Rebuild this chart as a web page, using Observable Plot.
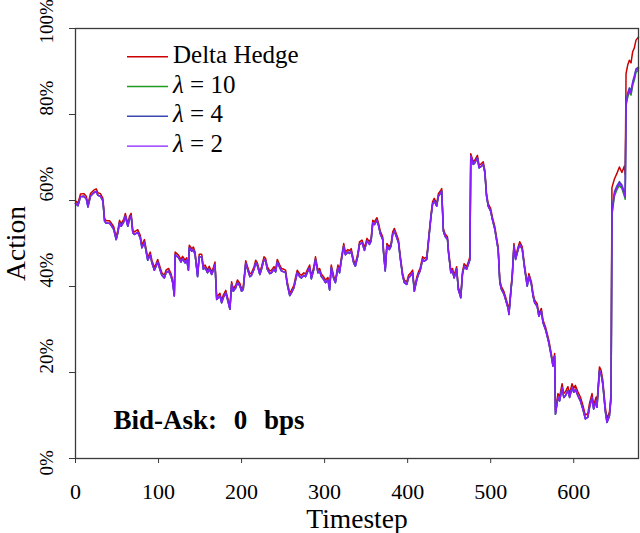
<!DOCTYPE html>
<html>
<head>
<meta charset="utf-8">
<script src="https://cdn.jsdelivr.net/npm/d3@7"></script>
<script src="https://cdn.jsdelivr.net/npm/@observablehq/plot@0.6"></script>
<style>
  html, body { margin: 0; padding: 0; background: #fff; }
  #chart svg { display: block; }
</style>
</head>
<body>
<div id="chart"></div>
<script>
const timesteps = [
  0,3,6,10,13,15,18,22,25,27,
  30,33,35,37,41,43,46,49,51,53,
  55,58,60,63,65,67,69,71,75,78,
  80,83,85,87,90,92,95,97,99,102,
  104,107,109,112,115,117,119,120,124,127,
  129,132,134,136,137,140,142,144,147,149,
  152,154,156,159,161,164,166,168,170,174,
  176,178,181,183,186,188,190,193,195,198,
  200,202,205,207,210,212,215,217,219,222,
  224,227,229,231,234,236,239,241,243,246,
  248,251,253,255,258,260,263,265,267,270,
  272,275,277,279,282,284,287,289,292,294,
  296,299,301,304,306,308,311,313,316,318,
  320,323,325,328,330,332,335,337,340,342,
  345,348,351,354,356,358,360,363,365,367,
  370,371,373,375,378,380,382,384,387,389,
  391,394,396,399,401,403,406,408,411,413,
  415,418,420,423,425,428,430,432,435,437,
  440,441,443,445,448,449,452,454,456,459,
  461,464,466,468,471,473,475,476,479,481,
  484,486,489,491,493,495,497,500,502,505,
  507,509,511,513,516,518,521,522,524,526,
  528,530,533,535,538,541,544,546,549,551,
  553,556,558,561,563,566,568,570,573,575,
  577,578,581,583,586,588,590,593,595,598,
  600,602,605,608,611,614,617,619,622,624,
  627,628,631,633,635,638,640,643,645,646,
  649,652,655,658,661,662,663,665,667,669,
  671,673,675,678
];

const deltaHedge = [
  59.9,59.4,61.5,61.6,61.0,59.1,61.6,62.4,62.7,61.8,
  61.6,60.5,55.8,55.3,55.3,54.8,53.9,51.5,53.1,55.4,
  54.6,55.6,57.0,54.6,56.3,57.0,53.1,52.7,53.2,51.9,
  49.6,50.9,48.8,46.7,48.0,46.1,44.4,45.3,46.3,44.4,
  43.2,42.6,43.8,44.2,43.0,41.5,38.4,48.0,47.3,46.3,
  47.0,46.1,46.7,44.4,49.6,48.8,49.2,48.0,42.9,47.5,
  47.5,44.6,45.0,43.8,44.7,43.4,44.4,45.7,37.6,38.4,
  36.8,38.0,39.1,37.6,35.3,41.1,39.5,40.3,41.5,40.7,
  39.5,39.9,46.0,44.7,42.9,43.2,44.6,46.1,45.5,43.4,
  44.6,46.9,46.5,44.6,43.6,43.8,44.6,44.0,46.3,45.0,
  44.2,44.0,43.8,41.1,38.5,39.1,40.3,42.1,43.8,42.9,
  42.6,43.2,42.9,43.8,45.0,42.4,44.6,46.9,43.8,44.2,
  42.9,42.2,41.5,42.1,39.8,45.0,42.4,41.5,45.0,43.8,
  46.5,50.0,48.0,48.6,48.3,48.8,46.1,45.3,47.7,50.4,
  50.8,49.0,51.2,50.4,51.2,55.4,55.0,56.0,54.7,52.9,
  51.5,48.4,44.2,50.0,49.2,50.0,52.7,53.5,51.9,50.8,
  47.3,43.0,41.5,41.1,42.6,43.0,43.8,39.5,42.2,43.4,
  44.2,46.9,46.5,46.9,50.8,56.6,59.7,60.5,59.3,61.6,
  62.4,62.8,53.5,52.3,51.5,48.8,43.8,44.2,42.6,44.6,
  39.9,38.0,43.4,45.3,44.6,45.7,46.9,70.9,69.0,69.4,
  70.5,68.2,68.6,69.0,67.0,61.6,59.3,58.1,56.2,53.9,
  51.5,49.2,41.5,39.9,38.8,37.5,35.5,34.1,38.7,43.0,
  50.0,46.9,49.2,50.4,49.2,44.6,40.7,43.0,41.1,38.4,
  36.8,36.0,33.7,34.9,32.2,30.6,29.1,27.5,24.4,22.1,
  24.4,11.2,15.1,14.3,17.4,15.1,15.5,16.7,15.1,17.4,
  16.3,17.0,15.5,14.3,12.4,10.1,10.5,12.8,15.1,12.4,
  14.3,12.8,21.3,20.5,18.2,12.0,9.3,10.8,15.1,63.0,
  65.0,66.3,67.8,66.5,68.0,66.0,89.5,91.5,92.6,92.0,
  94.6,95.5,97.3,98.0
];

const lambda10 = [
  59.3,58.8,60.9,61.0,60.4,58.5,61.0,61.8,62.1,61.2,
  61.0,59.9,55.2,54.7,54.7,54.2,53.3,50.9,52.5,54.8,
  54.0,55.0,56.4,54.0,55.7,56.4,52.5,52.1,52.6,51.3,
  49.0,50.3,48.2,46.1,47.4,45.5,43.8,44.7,45.7,43.8,
  42.6,42.0,43.2,43.6,42.4,40.9,37.8,47.4,46.7,45.7,
  46.4,45.5,46.1,43.8,49.0,48.2,48.6,47.4,42.3,46.9,
  46.9,44.0,44.4,43.2,44.1,42.8,43.8,45.1,37.0,37.8,
  36.2,37.4,38.5,37.0,34.7,40.5,38.9,39.7,40.9,40.1,
  38.9,39.3,45.4,44.1,42.3,42.6,44.0,45.5,44.9,42.8,
  44.0,46.3,45.9,44.0,43.0,43.2,44.0,43.4,45.7,44.4,
  43.6,43.4,43.2,40.5,37.9,38.5,39.7,41.5,43.2,42.3,
  42.0,42.6,42.3,43.2,44.4,41.8,44.0,46.3,43.2,43.6,
  42.3,41.6,40.9,41.5,39.2,44.4,41.8,40.9,44.4,43.2,
  45.9,49.4,47.4,48.0,47.7,48.2,45.5,44.7,47.1,49.8,
  50.2,48.4,50.6,49.8,50.6,54.8,54.4,55.4,54.1,52.3,
  50.9,47.8,43.6,49.4,48.6,49.4,52.1,52.9,51.3,50.2,
  46.7,42.4,40.9,40.5,42.0,42.4,43.2,38.9,41.6,42.8,
  43.6,46.3,45.9,46.3,50.2,56.0,59.1,59.9,58.7,61.0,
  61.8,62.2,52.9,51.7,50.9,48.2,43.2,43.6,42.0,44.0,
  39.3,37.4,42.8,44.7,44.0,45.1,46.3,70.3,68.4,68.8,
  69.9,67.6,68.0,68.4,66.4,61.0,58.7,57.5,55.6,53.3,
  50.9,48.6,40.9,39.3,38.2,36.9,34.9,33.5,38.1,42.4,
  49.4,46.3,48.6,49.8,48.6,44.0,40.1,42.4,40.5,37.8,
  36.2,35.4,33.1,34.3,31.6,30.0,28.5,26.9,23.8,21.5,
  23.8,10.3,14.2,13.4,16.5,14.2,14.6,15.8,14.2,16.5,
  15.4,16.1,14.6,13.4,11.5,9.2,9.6,11.9,14.2,11.5,
  13.4,11.9,20.4,19.6,17.3,11.1,8.4,9.9,14.2,56.5,
  61.0,62.5,63.5,62.8,61.0,60.3,82.0,84.0,85.2,84.5,
  86.8,88.0,89.8,90.3
];

const lambda4 = [
  59.3,58.8,60.9,61.0,60.4,58.5,61.0,61.8,62.1,61.2,
  61.0,59.9,55.2,54.7,54.7,54.2,53.3,50.9,52.5,54.8,
  54.0,55.0,56.4,54.0,55.7,56.4,52.5,52.1,52.6,51.3,
  49.0,50.3,48.2,46.1,47.4,45.5,43.8,44.7,45.7,43.8,
  42.6,42.0,43.2,43.6,42.4,40.9,37.8,47.4,46.7,45.7,
  46.4,45.5,46.1,43.8,49.0,48.2,48.6,47.4,42.3,46.9,
  46.9,44.0,44.4,43.2,44.1,42.8,43.8,45.1,37.0,37.8,
  36.2,37.4,38.5,37.0,34.7,40.5,38.9,39.7,40.9,40.1,
  38.9,39.3,45.4,44.1,42.3,42.6,44.0,45.5,44.9,42.8,
  44.0,46.3,45.9,44.0,43.0,43.2,44.0,43.4,45.7,44.4,
  43.6,43.4,43.2,40.5,37.9,38.5,39.7,41.5,43.2,42.3,
  42.0,42.6,42.3,43.2,44.4,41.8,44.0,46.3,43.2,43.6,
  42.3,41.6,40.9,41.5,39.2,44.4,41.8,40.9,44.4,43.2,
  45.9,49.4,47.4,48.0,47.7,48.2,45.5,44.7,47.1,49.8,
  50.2,48.4,50.6,49.8,50.6,54.8,54.4,55.4,54.1,52.3,
  50.9,47.8,43.6,49.4,48.6,49.4,52.1,52.9,51.3,50.2,
  46.7,42.4,40.9,40.5,42.0,42.4,43.2,38.9,41.6,42.8,
  43.6,46.3,45.9,46.3,50.2,56.0,59.1,59.9,58.7,61.0,
  61.8,62.2,52.9,51.7,50.9,48.2,43.2,43.6,42.0,44.0,
  39.3,37.4,42.8,44.7,44.0,45.1,46.3,70.3,68.4,68.8,
  69.9,67.6,68.0,68.4,66.4,61.0,58.7,57.5,55.6,53.3,
  50.9,48.6,40.9,39.3,38.2,36.9,34.9,33.5,38.1,42.4,
  49.4,46.3,48.6,49.8,48.6,44.0,40.1,42.4,40.5,37.8,
  36.2,35.4,33.1,34.3,31.6,30.0,28.5,26.9,23.8,21.5,
  23.8,10.3,14.2,13.4,16.5,14.2,14.6,15.8,14.2,16.5,
  15.4,16.1,14.6,13.4,11.5,9.2,9.6,11.9,14.2,11.5,
  13.4,11.9,20.4,19.6,17.3,11.1,8.4,9.9,14.2,57.5,
  62.0,63.4,64.4,63.6,62.0,61.2,83.0,85.0,86.2,85.5,
  87.6,89.0,90.6,91.0
];

const lambda2 = [
  59.3,58.8,60.9,61.0,60.4,58.5,61.0,61.8,62.1,61.2,
  61.0,59.9,55.2,54.7,54.7,54.2,53.3,50.9,52.5,54.8,
  54.0,55.0,56.4,54.0,55.7,56.4,52.5,52.1,52.6,51.3,
  49.0,50.3,48.2,46.1,47.4,45.5,43.8,44.7,45.7,43.8,
  42.6,42.0,43.2,43.6,42.4,40.9,37.8,47.4,46.7,45.7,
  46.4,45.5,46.1,43.8,49.0,48.2,48.6,47.4,42.3,46.9,
  46.9,44.0,44.4,43.2,44.1,42.8,43.8,45.1,37.0,37.8,
  36.2,37.4,38.5,37.0,34.7,40.5,38.9,39.7,40.9,40.1,
  38.9,39.3,45.4,44.1,42.3,42.6,44.0,45.5,44.9,42.8,
  44.0,46.3,45.9,44.0,43.0,43.2,44.0,43.4,45.7,44.4,
  43.6,43.4,43.2,40.5,37.9,38.5,39.7,41.5,43.2,42.3,
  42.0,42.6,42.3,43.2,44.4,41.8,44.0,46.3,43.2,43.6,
  42.3,41.6,40.9,41.5,39.2,44.4,41.8,40.9,44.4,43.2,
  45.9,49.4,47.4,48.0,47.7,48.2,45.5,44.7,47.1,49.8,
  50.2,48.4,50.6,49.8,50.6,54.8,54.4,55.4,54.1,52.3,
  50.9,47.8,43.6,49.4,48.6,49.4,52.1,52.9,51.3,50.2,
  46.7,42.4,40.9,40.5,42.0,42.4,43.2,38.9,41.6,42.8,
  43.6,46.3,45.9,46.3,50.2,56.0,59.1,59.9,58.7,61.0,
  61.8,62.2,52.9,51.7,50.9,48.2,43.2,43.6,42.0,44.0,
  39.3,37.4,42.8,44.7,44.0,45.1,46.3,70.3,68.4,68.8,
  69.9,67.6,68.0,68.4,66.4,61.0,58.7,57.5,55.6,53.3,
  50.9,48.6,40.9,39.3,38.2,36.9,34.9,33.5,38.1,42.4,
  49.4,46.3,48.6,49.8,48.6,44.0,40.1,42.4,40.5,37.8,
  36.2,35.4,33.1,34.3,31.6,30.0,28.5,26.9,23.8,21.5,
  23.8,10.3,14.2,13.4,16.5,14.2,14.6,15.8,14.2,16.5,
  15.4,16.1,14.6,13.4,11.5,9.2,9.6,11.9,14.2,11.5,
  13.4,11.9,20.4,19.6,17.3,11.1,8.4,9.9,14.2,57.0,
  61.6,63.0,64.0,63.2,61.5,60.8,82.6,84.5,85.7,85.0,
  87.2,88.5,90.3,90.7
];

const seriesNames = ["Delta Hedge", "λ = 10", "λ = 4", "λ = 2"];
const seriesColors = ["#cc0000", "#1f9a1f", "#3848b0", "#8a1cff"];
const seriesValues = [deltaHedge, lambda10, lambda4, lambda2];
const xTicks = [0, 100, 200, 300, 400, 500, 600];
const yTicks = [0, 20, 40, 60, 80, 100];
const annotation = "Bid-Ask: 0 bps";

const FONT = "'Liberation Serif', 'DejaVu Serif', serif";

const rows = seriesNames.flatMap((name, i) =>
  timesteps.map((t, j) => ({ t, v: seriesValues[i][j], series: name }))
);

const fmt = d => d + "%";
const midTicks = yTicks.filter(d => d > 0 && d < 100);
const yLabelStyle = { frameAnchor: "left", dx: -28.5, rotate: -90, textAnchor: "start", lineAnchor: "middle", fontSize: 19, fill: "#000" };

const svg = Plot.plot({
  width: 640,
  height: 533,
  marginLeft: 75,
  marginRight: 2,
  marginTop: 28,
  marginBottom: 75,
  style: { fontFamily: FONT, fontSize: "22px", color: "#000", background: "#fff" },
  x: { domain: [0, 678], label: null },
  y: { domain: [0, 100], label: null },
  marks: [
    ...seriesNames.map((name, i) =>
      Plot.line(rows.filter(d => d.series === name), {
        x: "t", y: "v", stroke: seriesColors[i], strokeWidth: 1.5
      })
    ),
    Plot.frame({ stroke: "#3a3a3a", strokeWidth: 1.3 }),
    Plot.axisX({ ticks: xTicks, tickSize: 5, tickPadding: 20, fontSize: 22, label: null, stroke: "#3a3a3a" }),
    Plot.axisY({ ticks: yTicks, tickSize: 6, tickFormat: () => "", label: null, stroke: "#3a3a3a" }),
    Plot.text(midTicks, { y: d => d, text: fmt, dy: 1, ...yLabelStyle }),
    Plot.text([0], { y: d => d, text: fmt, dy: 17, ...yLabelStyle }),
    Plot.text([100], { y: d => d, text: fmt, dy: 15, ...yLabelStyle }),
    Plot.text(["Timestep"], { frameAnchor: "bottom", lineAnchor: "middle", textAnchor: "middle", dy: 60.5, fontSize: 27.5, fill: "#000" }),
    Plot.text(["Action"], { frameAnchor: "left", lineAnchor: "middle", textAnchor: "middle", dx: -59, rotate: -90, fontSize: 27.5, fill: "#000" }),
    Plot.text([annotation], { frameAnchor: "bottom-left", lineAnchor: "middle", textAnchor: "start", dx: 38, dy: -38.5, fontSize: 27, fontWeight: "bold", fill: "#000" })
  ]
});

const root = d3.select(svg);
root.selectAll("text").filter(function () { return this.textContent === annotation; })
  .style("word-spacing", "10px");

// legend (inside the plot, upper left)
const legend = root.append("g")
  .attr("font-family", FONT).attr("font-size", 25).attr("fill", "#000")
  .attr("text-anchor", "start");
seriesNames.forEach((name, i) => {
  const y = 56.7 + i * 29.8;
  legend.append("line")
    .attr("x1", 127).attr("x2", 168).attr("y1", y).attr("y2", y)
    .attr("stroke", seriesColors[i]).attr("stroke-width", 1.4);
  const txt = legend.append("text").attr("x", 173).attr("y", y + 6)
    .attr("text-anchor", "start").style("white-space", "pre");
  if (name.startsWith("λ")) {
    txt.append("tspan").attr("font-style", "italic").text("λ");
    txt.append("tspan").text(name.slice(1));
  } else {
    txt.text(name);
  }
});

document.getElementById("chart").appendChild(svg);
</script>
</body>
</html>
